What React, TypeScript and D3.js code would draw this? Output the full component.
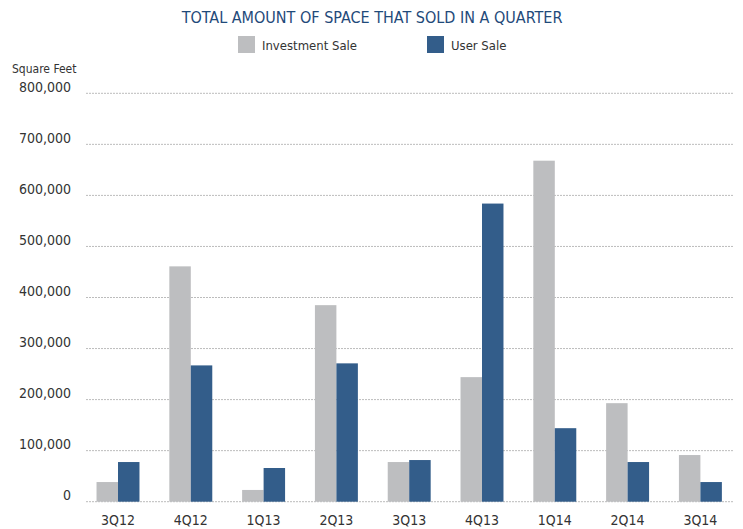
import { useEffect, useRef } from "react";
import * as d3 from "d3";

const quarters = ["3Q12", "4Q12", "1Q13", "2Q13", "3Q13", "4Q13", "1Q14", "2Q14", "3Q14"];
const investmentSale = [38500, 461000, 23000, 385000, 77700, 244000, 668000, 193000, 91400];
const userSale = [77700, 267000, 66000, 271000, 81600, 584000, 144000, 77700, 38500];
const seriesNames = ["Investment Sale", "User Sale"];
const yTicks = [0, 100000, 200000, 300000, 400000, 500000, 600000, 700000, 800000];

const W = 743;
const H = 529;
const FONT = "'Liberation Sans Narrow', 'DejaVu Sans Condensed', 'Roboto Condensed', sans-serif";
const colors = ["#bdbec0", "#335d8a"];

export default function App() {
  const svgRef = useRef<SVGSVGElement>(null);

  useEffect(() => {
    const svg = d3.select(svgRef.current);
    svg.selectAll("*").remove();

    const x = d3
      .scaleBand<string>()
      .domain(quarters)
      .range([81.6, 736.8])
      .paddingInner(0.41)
      .paddingOuter(0.205);
    const xSub = d3.scaleBand<string>().domain(seriesNames).range([0, x.bandwidth()]);
    const y = d3.scaleLinear().domain([0, 800000]).range([501.7, 93.3]);

    // title
    svg
      .append("text")
      .attr("x", 372)
      .attr("y", 23)
      .attr("text-anchor", "middle")
      .style("font-family", FONT)
      .style("font-size", "16px")
      .style("fill", "#1f4a7a")
      .text("TOTAL AMOUNT OF SPACE THAT SOLD IN A QUARTER");

    // legend
    const legendX = [238, 427];
    seriesNames.forEach((name, i) => {
      svg
        .append("rect")
        .attr("x", legendX[i])
        .attr("y", 36)
        .attr("width", 17)
        .attr("height", 17)
        .attr("fill", colors[i]);
      svg
        .append("text")
        .attr("x", legendX[i] + 24)
        .attr("y", 50)
        .style("font-family", FONT)
        .style("font-size", "13px")
        .style("fill", "#333")
        .text(name);
    });

    svg
      .append("text")
      .attr("x", 12)
      .attr("y", 73)
      .style("font-family", FONT)
      .style("font-size", "12px")
      .style("fill", "#333")
      .text("Square Feet");

    // grid + y labels
    const grid = svg.append("g");
    grid
      .selectAll("line")
      .data(yTicks)
      .join("line")
      .attr("x1", 86)
      .attr("x2", 734)
      .attr("y1", (d) => y(d))
      .attr("y2", (d) => y(d))
      .attr("stroke", "#bcbcbc")
      .attr("stroke-width", 1)
      .attr("stroke-dasharray", "2,1");
    grid
      .selectAll("text")
      .data(yTicks)
      .join("text")
      .attr("x", 71)
      .attr("y", (d) => y(d) - 1.5)
      .attr("text-anchor", "end")
      .style("font-family", FONT)
      .style("font-size", "14px")
      .style("fill", "#333")
      .text((d) => d3.format(",")(d));

    // bars
    const groups = svg
      .append("g")
      .selectAll("g")
      .data(quarters)
      .join("g")
      .attr("transform", (d) => `translate(${x(d)},0)`);
    groups
      .selectAll("rect")
      .data((d, i) => [investmentSale[i], userSale[i]])
      .join("rect")
      .attr("x", (d, j) => xSub(seriesNames[j])!)
      .attr("width", xSub.bandwidth())
      .attr("y", (d) => y(d))
      .attr("height", (d) => y(0) - y(d))
      .attr("fill", (d, j) => colors[j]);

    // x labels
    svg
      .append("g")
      .selectAll("text")
      .data(quarters)
      .join("text")
      .attr("x", (d) => x(d)! + x.bandwidth() / 2)
      .attr("y", 525)
      .attr("text-anchor", "middle")
      .style("font-family", FONT)
      .style("font-size", "14px")
      .style("fill", "#333")
      .text((d) => d);
  }, []);

  return (
    <svg
      ref={svgRef}
      width={W}
      height={H}
      style={{ position: "absolute", left: 0, top: 0, background: "#fff" }}
    />
  );
}
